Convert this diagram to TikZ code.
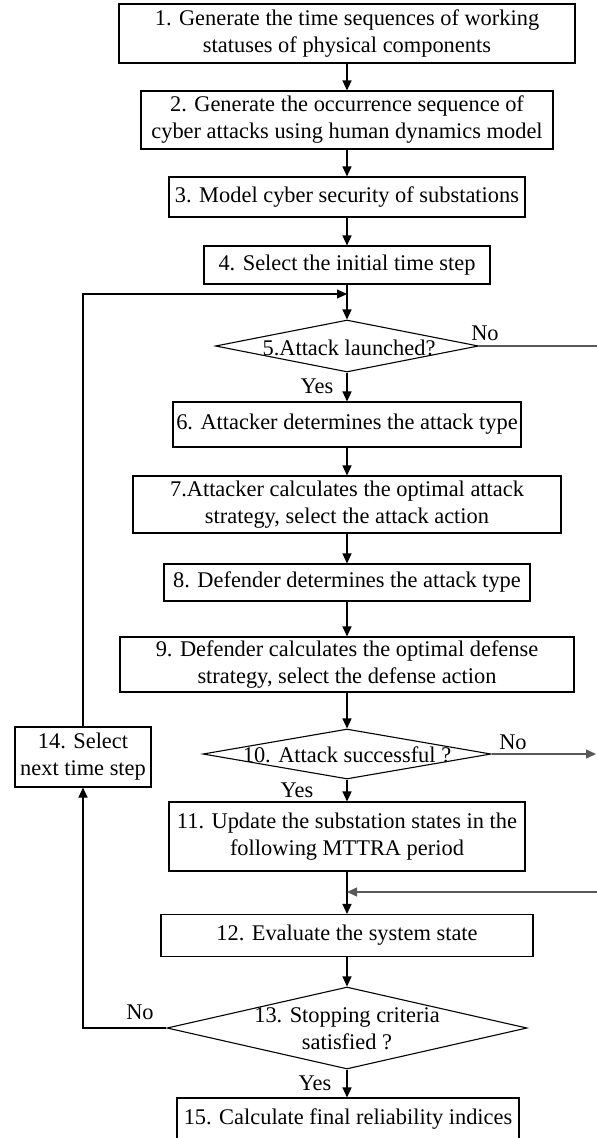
\documentclass[tikz,border=0pt]{standalone}
\usepackage{fontspec}
\setmainfont{Liberation Serif}
\usetikzlibrary{shapes.geometric,arrows.meta}
\begin{document}
\begin{tikzpicture}[x=1pt,y=-1pt,
  every node/.style={font=\fontsize{22.4}{27}\selectfont},
  stepbox/.style={draw,line width=1.1pt,rectangle,inner sep=0pt,align=center},
  decide/.style={draw,line width=1.1pt,shape=diamond,inner sep=0pt,aspect=1},
  plain/.style={inner sep=0pt},
  arr/.style={line width=1.3pt,-{Triangle[length=10pt,width=9pt]}},
  back/.style={line width=1.3pt,black!65},
  backarr/.style={back,-{Triangle[length=10pt,width=9pt]}}]
\useasboundingbox (0,0) rectangle (597,1138);
\clip (0,0) rectangle (597,1138);

% process steps
\node[stepbox,minimum width=456,minimum height=59] (b1) at (347,33.5)
  {1. Generate the time sequences of working\\statuses of physical components};
\node[stepbox,minimum width=412,minimum height=58] (b2) at (347,120)
  {2. Generate the occurrence sequence of\\cyber attacks using human dynamics model};
\node[stepbox,minimum width=356,minimum height=40] (b3) at (347,197)
  {3. Model cyber security of substations};
\node[stepbox,minimum width=286,minimum height=38] (b4) at (347,265)
  {4. Select the initial time step};
\node[decide,minimum width=263,minimum height=52] (d5) at (347,346) {};
\node[plain] (t5) at (349,348) {5.Attack launched?};
\node[stepbox,minimum width=348,minimum height=45] (b6) at (347,424.5)
  {6. Attacker determines the attack type};
\node[stepbox,minimum width=428,minimum height=57] (b7) at (347,504.5)
  {7.Attacker calculates the optimal attack\\strategy, select the attack action};
\node[stepbox,minimum width=366,minimum height=37] (b8) at (347,582.5)
  {8. Defender determines the attack type};
\node[stepbox,minimum width=454,minimum height=55] (b9) at (347,664.5)
  {9. Defender calculates the optimal defense\\strategy, select the defense action};
\node[decide,minimum width=288,minimum height=50] (d10) at (347,754) {};
\node[plain] (t10) at (347,755) {10. Attack successful ?};
\node[stepbox,minimum width=356,minimum height=69] (b11) at (347,836.5)
  {11. Update the substation states in the\\following MTTRA period};
\node[stepbox,minimum width=372,minimum height=42] (b12) at (347,935.5)
  {12. Evaluate the system state};
\node[decide,minimum width=360,minimum height=82] (d13) at (347,1028) {};
\node[plain,align=center] (t13) at (347,1029) {13. Stopping criteria\\satisfied ?};
\node[stepbox,minimum width=136,minimum height=60] (b14) at (83,757)
  {14. Select\\next time step};
\node[stepbox,minimum width=342,minimum height=42] (b15) at (348,1119)
  {15. Calculate final reliability indices};

% branch labels
\node[plain] (no5) at (485,333) {No};
\node[plain] (yes5) at (317,386) {Yes};
\node[plain] (no10) at (513,742) {No};
\node[plain] (yes10) at (297,790) {Yes};
\node[plain] (no13) at (140,1012) {No};
\node[plain] (yes13) at (315,1083) {Yes};

% junction points
\coordinate (j4) at (347,294);
\coordinate (j11) at (347,892);
\coordinate (r5) at (606,346);
\coordinate (r5d) at (606,892);
\coordinate (r10) at (596,754);

% main flow
\draw[arr] (b1.south) -- (b2.north);
\draw[arr] (b2.south) -- (b3.north);
\draw[arr] (b3.south) -- (b4.north);
\draw[arr] (b4.south) -- (d5.north);
\draw[arr] (d5.south) -- (b6.north);
\draw[arr] (b6.south) -- (b7.north);
\draw[arr] (b7.south) -- (b8.north);
\draw[arr] (b8.south) -- (b9.north);
\draw[arr] (b9.south) -- (d10.north);
\draw[arr] (d10.south) -- (b11.north);
\draw[arr] (b11.south) -- (b12.north);
\draw[arr] (b12.south) -- (d13.north);
\draw[arr] (d13.south) -- (d13.south |- b15.north);

% loop back to the next time step
\draw[arr,line width=1.1pt] (d13.west) -| (b14.south);
\draw[arr,line width=1.1pt] (b14.north) |- (j4);

% "No" branches on the right
\draw[backarr] (d5.east) -- (r5) -- (r5d) -- (j11);
\draw[backarr] (d10.east) -- (r10);
\end{tikzpicture}
\end{document}
